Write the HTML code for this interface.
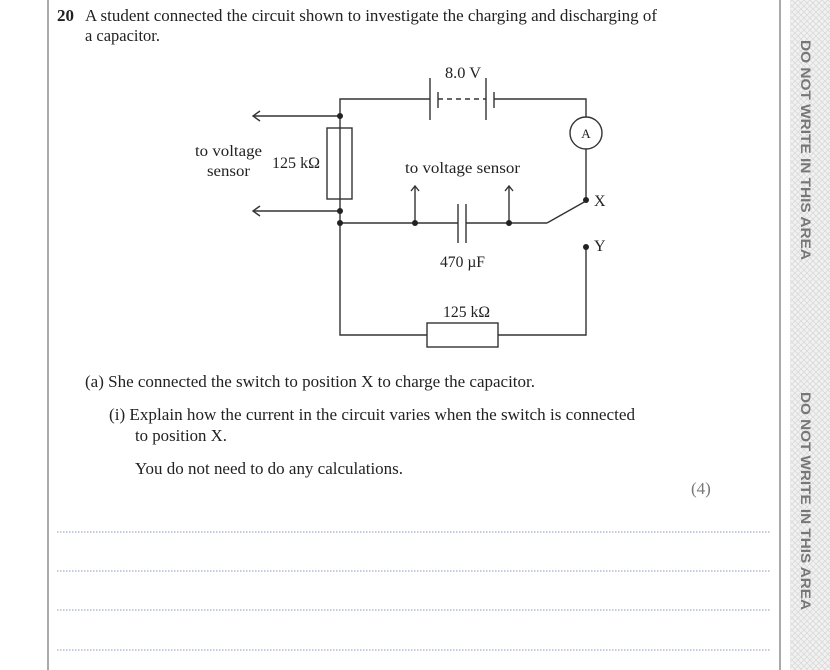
<!DOCTYPE html>
<html><head><meta charset="utf-8"><style>
html,body{margin:0;padding:0;background:#fff;}
svg{display:block}
</style></head><body>
<svg width="830" height="670" viewBox="0 0 830 670" xmlns="http://www.w3.org/2000/svg">
<defs>
<pattern id="hatch" width="6" height="6" patternUnits="userSpaceOnUse">
<rect width="6" height="6" fill="#f1f1f1"/>
<path d="M0 0L6 6M6 0L0 6" stroke="#d6d6d6" stroke-width="0.7"/>
</pattern>
</defs>
<rect x="47" y="0" width="2" height="670" fill="#aaa"/>
<rect x="779" y="0" width="2" height="670" fill="#aaa"/>
<rect x="790" y="0" width="40" height="670" fill="url(#hatch)"/>
<g font-family="Liberation Sans, sans-serif" font-weight="bold" font-size="14" fill="#777">
<text transform="translate(801,150) rotate(90)" text-anchor="middle" textLength="220" lengthAdjust="spacingAndGlyphs">DO NOT WRITE IN THIS AREA</text>
<text transform="translate(801,501) rotate(90)" text-anchor="middle" textLength="218" lengthAdjust="spacingAndGlyphs">DO NOT WRITE IN THIS AREA</text>
</g>
<g font-family="Liberation Serif, serif" font-size="17" fill="#222" lengthAdjust="spacingAndGlyphs">
<text x="57" y="21" font-weight="bold">20</text>
<text x="85" y="21" textLength="572" lengthAdjust="spacingAndGlyphs">A student connected the circuit shown to investigate the charging and discharging of</text>
<text x="85" y="41" textLength="75" lengthAdjust="spacingAndGlyphs">a capacitor.</text>
<text x="85" y="387" textLength="450" lengthAdjust="spacingAndGlyphs">(a) She connected the switch to position X to charge the capacitor.</text>
<text x="109" y="420" textLength="526" lengthAdjust="spacingAndGlyphs">(i) Explain how the current in the circuit varies when the switch is connected</text>
<text x="135" y="441" textLength="92" lengthAdjust="spacingAndGlyphs">to position X.</text>
<text x="135" y="474" textLength="268" lengthAdjust="spacingAndGlyphs">You do not need to do any calculations.</text>
<text x="691" y="494" fill="#777">(4)</text>
</g>
<g stroke="#8899bb" stroke-width="1" stroke-dasharray="1.5 1.5">
<line x1="57" y1="532" x2="770" y2="532"/>
<line x1="57" y1="571" x2="770" y2="571"/>
<line x1="57" y1="610" x2="770" y2="610"/>
<line x1="57" y1="650" x2="770" y2="650"/>
</g>
<g stroke="#333" stroke-width="1.4" fill="none">
<polyline points="340,199 340,99 430,99"/>
<polyline points="494,99 586,99 586,117"/>
<line x1="586" y1="149" x2="586" y2="200"/>
<line x1="430" y1="78" x2="430" y2="120"/>
<line x1="438" y1="92" x2="438" y2="108"/>
<line x1="438" y1="99" x2="486" y2="99" stroke-dasharray="5 4"/>
<line x1="486" y1="78" x2="486" y2="120"/>
<line x1="494" y1="92" x2="494" y2="108"/>
<circle cx="586" cy="133" r="16"/>
<rect x="327" y="128" width="25" height="71"/>
<line x1="340" y1="116" x2="253" y2="116"/>
<polyline points="260,111 253,116 260,121"/>
<line x1="340" y1="211" x2="253" y2="211"/>
<polyline points="260,206 253,211 260,216"/>
<polyline points="340,199 340,335 427,335"/>
<line x1="340" y1="223" x2="458" y2="223"/>
<line x1="466" y1="223" x2="547" y2="223"/>
<line x1="458" y1="204" x2="458" y2="243"/>
<line x1="466" y1="204" x2="466" y2="243"/>
<line x1="547" y1="223" x2="586" y2="201"/>
<line x1="415" y1="223" x2="415" y2="186"/>
<polyline points="411,191 415,186 419,191"/>
<line x1="509" y1="223" x2="509" y2="186"/>
<polyline points="505,191 509,186 513,191"/>
<polyline points="498,335 586,335 586,247"/>
<rect x="427" y="323" width="71" height="24"/>
</g>
<g fill="#222">
<circle cx="340" cy="116" r="3"/>
<circle cx="340" cy="211" r="3"/>
<circle cx="340" cy="223" r="3"/>
<circle cx="415" cy="223" r="3"/>
<circle cx="509" cy="223" r="3"/>
<circle cx="586" cy="200" r="3"/>
<circle cx="586" cy="247" r="3"/>
</g>
<g font-family="Liberation Serif, serif" font-size="16" fill="#222">
<text x="445" y="78" textLength="36" lengthAdjust="spacingAndGlyphs">8.0 V</text>
<text x="586" y="138" text-anchor="middle" font-size="13">A</text>
<text x="195" y="156" textLength="67" lengthAdjust="spacingAndGlyphs">to voltage</text>
<text x="207" y="176" textLength="43" lengthAdjust="spacingAndGlyphs">sensor</text>
<text x="272" y="168" textLength="48" lengthAdjust="spacingAndGlyphs">125 kΩ</text>
<text x="405" y="173" textLength="115" lengthAdjust="spacingAndGlyphs">to voltage sensor</text>
<text x="440" y="267" textLength="45" lengthAdjust="spacingAndGlyphs">470 µF</text>
<text x="443" y="317" textLength="47" lengthAdjust="spacingAndGlyphs">125 kΩ</text>
<text x="594" y="206">X</text>
<text x="594" y="251">Y</text>
</g>
</svg>
</body></html>
